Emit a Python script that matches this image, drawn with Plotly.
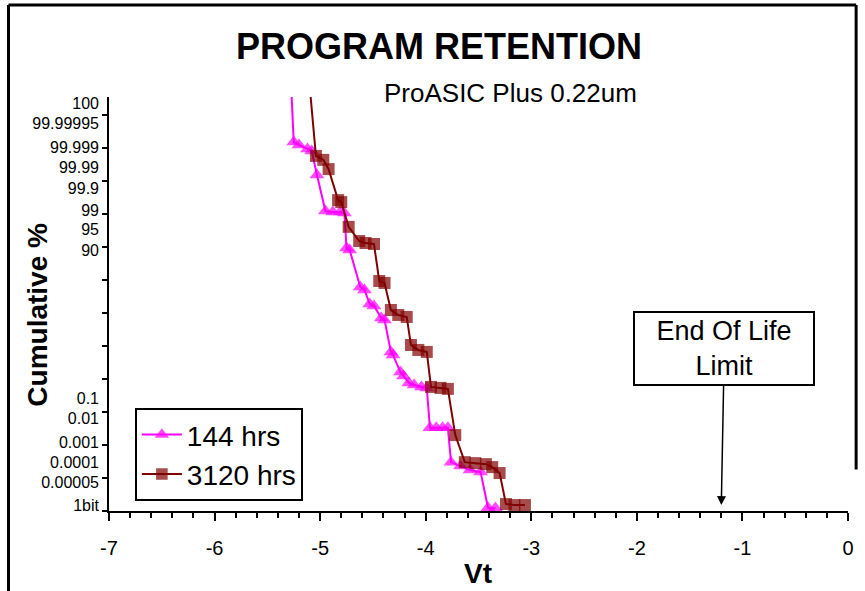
import plotly.graph_objects as go

# Vt values and cumulative-scale positions (in units of y-axis tick spacing, 0 = bottom)
vt_144 = [-5.27, -5.25, -5.20, -5.12, -5.08, -5.03, -4.95, -4.88, -4.81, -4.77, -4.75, -4.72,
          -4.62, -4.58, -4.53, -4.49, -4.42, -4.39, -4.33, -4.31, -4.24, -4.21, -4.16, -4.11,
          -4.04, -3.99, -3.96, -3.90, -3.84, -3.79, -3.76, -3.67, -3.58, -3.48, -3.41, -3.34]
cum_144 = [12.55, 11.18, 11.09, 10.97, 10.91, 10.18, 9.09, 9.06, 9.06, 9.03, 7.97, 7.91,
           6.79, 6.70, 6.27, 6.21, 5.85, 5.79, 4.82, 4.73, 4.21, 4.09, 3.88, 3.82,
           3.76, 3.73, 2.52, 2.52, 2.52, 2.52, 1.48, 1.36, 1.24, 1.18, 0.10, 0.09]

vt_3120 = [-5.09, -5.04, -4.97, -4.92, -4.83, -4.80, -4.73, -4.63, -4.57, -4.49, -4.44, -4.39,
           -4.33, -4.26, -4.18, -4.14, -4.07, -3.99, -3.95, -3.86, -3.79, -3.72, -3.63, -3.53,
           -3.43, -3.37, -3.30, -3.24, -3.16, -3.06]
cum_3120 = [12.55, 10.76, 10.64, 10.36, 9.42, 9.36, 8.61, 8.18, 8.12, 8.09, 6.97, 6.91,
            6.09, 5.94, 5.88, 5.03, 4.88, 4.82, 3.76, 3.73, 3.70, 2.30, 1.48, 1.45,
            1.42, 1.33, 1.15, 0.21, 0.18, 0.18]

y_label_pos = [12.36, 11.76, 11.03, 10.42, 9.79, 9.12, 8.52, 7.91, 3.42, 2.82, 2.09, 1.48, 0.88, 0.18]
y_labels = ["100", "99.99995", "99.999", "99.99", "99.9", "99", "95", "90",
            "0.1", "0.01", "0.001", "0.0001", "0.00005", "1bit"]
y_tick_pos = list(range(0, 13))
x_ticks = [-7, -6, -5, -4, -3, -2, -1, 0]
x_tick_text = ["-7", "-6", "-5", "-4", "-3", "-2", "-1", "0"]
eol_vt = -1.2

FONT = "Arial, Liberation Sans, sans-serif"
YMAX = 12.545

fig = go.Figure()
fig.add_trace(go.Scatter(
    x=vt_144, y=cum_144, mode="lines+markers", name="144 hrs",
    line=dict(color="#FF00FF", width=2),
    marker=dict(symbol="triangle-up", size=[0] + [13] * (len(vt_144) - 1), color="#FF00FF",
                line=dict(width=0)),
))
fig.add_trace(go.Scatter(
    x=vt_3120, y=cum_3120, mode="lines+markers", name="3120 hrs",
    line=dict(color="#800000", width=2),
    marker=dict(symbol="square", size=[0] + [12] * (len(vt_3120) - 1), color="#800000",
                line=dict(width=0)),
))
# invisible trace to carry the label axis
fig.add_trace(go.Scatter(x=[None], y=[None], yaxis="y2", showlegend=False, hoverinfo="skip"))

fig.update_layout(
    width=865, height=591, autosize=False,
    margin=dict(l=109, r=11, t=97, b=80),
    paper_bgcolor="white", plot_bgcolor="white",
    font=dict(family=FONT, color="black"),
    xaxis=dict(range=[-7, 0], tickvals=x_ticks, ticktext=x_tick_text, ticks="outside",
               ticklen=8, tickwidth=2,
               tickcolor="black", showline=True, linecolor="black", linewidth=2,
               showgrid=False, zeroline=False, tickfont=dict(size=20, family=FONT),
               ticklabelstandoff=10,
               minor=dict(dtick=0.2, ticks="outside", ticklen=5, tickwidth=1.5,
                          tickcolor="black", showgrid=False)),
    yaxis=dict(range=[0, YMAX], tickvals=y_tick_pos, showticklabels=False,
               ticks="outside", ticklen=5, tickwidth=2, tickcolor="black",
               showline=True, linecolor="black", linewidth=2,
               showgrid=False, zeroline=False),
    yaxis2=dict(range=[0, YMAX], overlaying="y", side="left", anchor="x",
                tickvals=y_label_pos, ticktext=y_labels, ticks="",
                showline=False, showgrid=False, zeroline=False,
                tickfont=dict(size=16, family=FONT), ticklabelstandoff=9),
    legend=dict(x=0.035, y=0.249, xanchor="left", yanchor="top",
                bgcolor="white", bordercolor="black", borderwidth=2,
                itemwidth=40, font=dict(size=28, family=FONT)),
    showlegend=True,
)

fig.add_annotation(text="<b>PROGRAM RETENTION</b>", xref="paper", yref="paper",
                   x=0.447, y=1.121, xanchor="center", yanchor="middle",
                   showarrow=False, font=dict(size=36, family=FONT))
fig.add_annotation(text="ProASIC Plus 0.22um", xref="paper", yref="paper",
                   x=0.543, y=1.01, xanchor="center", yanchor="middle",
                   showarrow=False, font=dict(size=26, family=FONT))
fig.add_annotation(text="<b>Vt</b>", xref="paper", yref="paper",
                   x=0.499, y=-0.152, xanchor="center", yanchor="middle",
                   showarrow=False, font=dict(size=28, family=FONT))
fig.add_annotation(text="<b>Cumulative %</b>", xref="paper", yref="paper",
                   x=-0.097, y=0.475, xanchor="center", yanchor="middle",
                   showarrow=False, textangle=-90, font=dict(size=28, family=FONT))
fig.add_annotation(text="End Of Life<br>Limit", x=eol_vt, y=0.18, xref="x", yref="y",
                   showarrow=True, arrowhead=2, arrowsize=1.2, arrowwidth=1.5,
                   arrowcolor="black", ax=3, ay=-157,
                   bordercolor="black", borderwidth=2, borderpad=3, bgcolor="white",
                   width=172, font=dict(size=27, family=FONT))

# outer frame
for x0, y0, x1, y1 in [(-0.136, 1.222, 1.011, 1.222), (-0.136, 1.222, -0.136, -0.2),
                       (1.011, 1.222, 1.011, 0.1)]:
    fig.add_shape(type="line", xref="paper", yref="paper", x0=x0, y0=y0, x1=x1, y1=y1,
                  line=dict(color="black", width=3))

fig.write_html("out.html", config={"displayModeBar": False},
               post_script="document.body.style.margin='0px';document.body.style.overflow='hidden';")
